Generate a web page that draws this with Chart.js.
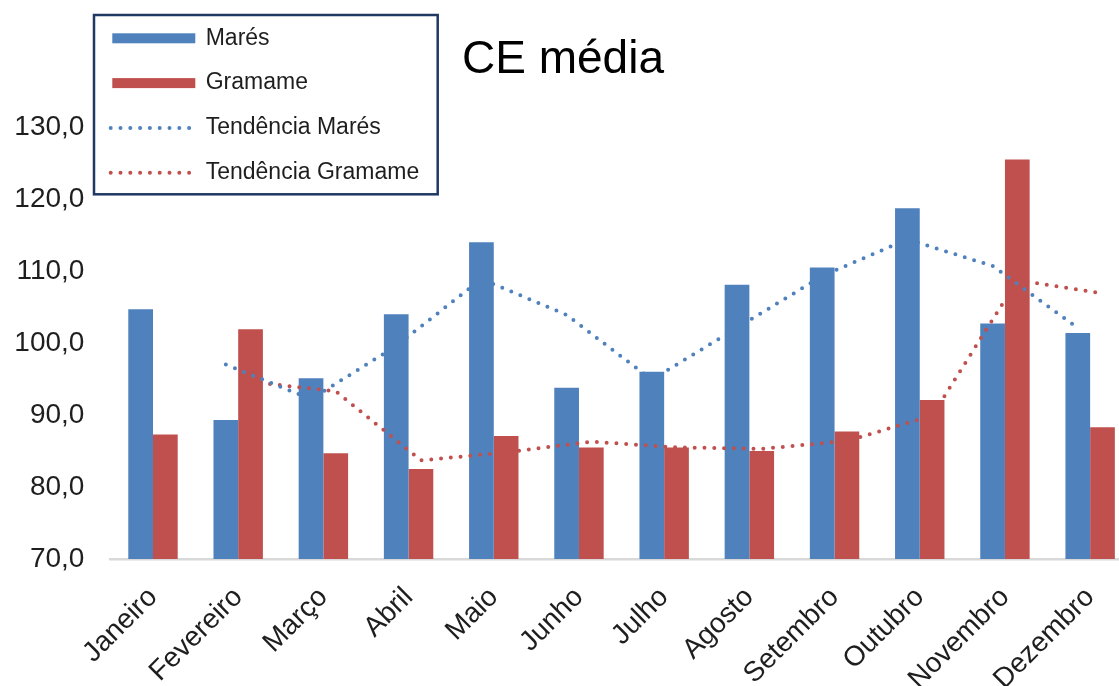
<!DOCTYPE html>
<html>
<head>
<meta charset="utf-8">
<script src="https://cdn.jsdelivr.net/npm/chart.js@4.4.0/dist/chart.umd.min.js"></script>
<style>
  html, body { margin: 0; padding: 0; width: 1119px; height: 686px; overflow: hidden; background: #fff; }
  #wrap { position: absolute; left: -10px; top: 0; width: 1146px; height: 686px; }
</style>
</head>
<body>
<div id="wrap"><canvas id="c"></canvas></div>
<script>
// ---- Data ----
const categories = ['Janeiro','Fevereiro','Março','Abril','Maio','Junho','Julho','Agosto','Setembro','Outubro','Novembro','Dezembro'];
const maresValues   = [104.7, 89.3, 95.1, 104.0, 114.0, 93.8, 96.0, 108.1, 110.5, 118.7, 102.7, 101.4];
const gramameValues = [87.3, 101.9, 84.7, 82.5, 87.1, 85.5, 85.5, 85.0, 87.7, 92.1, 125.5, 88.3];
const trendMares    = [null, 97.0, 92.2, 99.6, 108.9, 103.9, 94.9, 102.1, 109.3, 114.4, 110.7, 102.1];
const trendGramame  = [null, 94.6, 93.3, 83.7, 84.8, 86.3, 85.5, 85.3, 86.4, 89.9, 108.7, 106.9];
const yTickMin = 70, yTickMax = 130, yTickStep = 10;
const titleText = 'CE média';
const seriesNames = ['Marés', 'Gramame', 'Tendência Marés', 'Tendência Gramame'];

const BLUE = '#4f81bd', RED = '#c0504d';
const FONT = "'Liberation Sans', Arial, sans-serif";

// Place each trend line's points over the centre of its own bar
const alignTrend = {
  id: 'alignTrend',
  afterDatasetsUpdate(chart) {
    chart.data.datasets.forEach((ds, i) => {
      if (ds.type !== 'line') return;
      const barMeta = chart.getDatasetMeta(ds.followBar);
      const lineMeta = chart.getDatasetMeta(i);
      lineMeta.data.forEach((pt, j) => {
        const b = barMeta.data[j];
        if (b) pt.x = b.x;
      });
    });
  }
};

// Boxed legend drawn inside the chart
const legendBox = {
  id: 'legendBox',
  afterDraw(chart, args, o) {
    const ctx = chart.ctx;
    ctx.save();
    ctx.fillStyle = '#ffffff';
    ctx.fillRect(o.x, o.y, o.w, o.h);
    ctx.lineWidth = 2.5;
    ctx.strokeStyle = '#203864';
    ctx.strokeRect(o.x, o.y, o.w, o.h);
    const order = [2, 3, 0, 1];
    order.forEach((dsIndex, row) => {
      const ds = chart.data.datasets[dsIndex];
      const cy = o.y + o.firstRow + row * o.rowGap;
      if (ds.type === 'line') {
        ctx.strokeStyle = ds.borderColor;
        ctx.lineWidth = 4;
        ctx.lineCap = 'round';
        ctx.setLineDash([0, 9.8]);
        ctx.beginPath();
        ctx.moveTo(o.x + 16.7, cy);
        ctx.lineTo(o.x + 96, cy);
        ctx.stroke();
        ctx.setLineDash([]);
      } else {
        ctx.fillStyle = ds.backgroundColor;
        ctx.fillRect(o.x + 18.3, cy - 5, 83, 10);
      }
      ctx.fillStyle = '#1e1e1e';
      ctx.font = '23px ' + FONT;
      ctx.textBaseline = 'middle';
      ctx.textAlign = 'left';
      ctx.fillText(ds.label, o.x + 111.7, cy);
    });
    ctx.restore();
  }
};

new Chart(document.getElementById('c'), {
  data: {
    labels: categories,
    datasets: [
      { type: 'line', label: seriesNames[2], data: trendMares, followBar: 2,
        borderColor: BLUE, borderWidth: 4, borderDash: [0, 9.8], borderCapStyle: 'round',
        pointRadius: 0, fill: false, tension: 0, order: 0 },
      { type: 'line', label: seriesNames[3], data: trendGramame, followBar: 3,
        borderColor: RED, borderWidth: 4, borderDash: [0, 9.8], borderCapStyle: 'round',
        pointRadius: 0, fill: false, tension: 0, order: 0 },
      { type: 'bar', label: seriesNames[0], data: maresValues, backgroundColor: BLUE,
        categoryPercentage: 0.58, barPercentage: 1.0, order: 1 },
      { type: 'bar', label: seriesNames[1], data: gramameValues, backgroundColor: RED,
        categoryPercentage: 0.58, barPercentage: 1.0, order: 1 }
    ]
  },
  options: {
    responsive: true,
    maintainAspectRatio: false,
    animation: false,
    layout: { padding: { left: 2.4, right: 2.4, top: 0, bottom: 0 } },
    plugins: {
      legend: { display: false },
      tooltip: { enabled: false },
      title: {
        display: true, text: titleText, color: '#000',
        font: { family: FONT, size: 46, weight: 'normal', lineHeight: 1.2 },
        padding: { top: 33, bottom: 38.8 }
      },
      legendBox: { x: 104, y: 15, w: 343.7, h: 179.3, firstRow: 23.3, rowGap: 44.8 }
    },
    scales: {
      x: {
        grid: { display: false, drawTicks: false },
        border: { display: true, color: '#d9d9d9', width: 2.5 },
        ticks: {
          color: '#1e1e1e', font: { family: FONT, size: 28 },
          minRotation: 45, maxRotation: 45, padding: 22, autoSkip: false
        },
        afterFit(scale) { scale.height = 127; }
      },
      y: {
        min: yTickMin, max: yTickMax,
        grid: { display: false, drawTicks: false },
        border: { display: false },
        ticks: {
          stepSize: yTickStep, color: '#1e1e1e', padding: 26,
          font: { family: FONT, size: 28 },
          callback: v => v.toFixed(1).replace('.', ',')
        },
        afterFit(scale) { scale.width = 118; }
      }
    }
  },
  plugins: [alignTrend, legendBox]
});
</script>
</body>
</html>
